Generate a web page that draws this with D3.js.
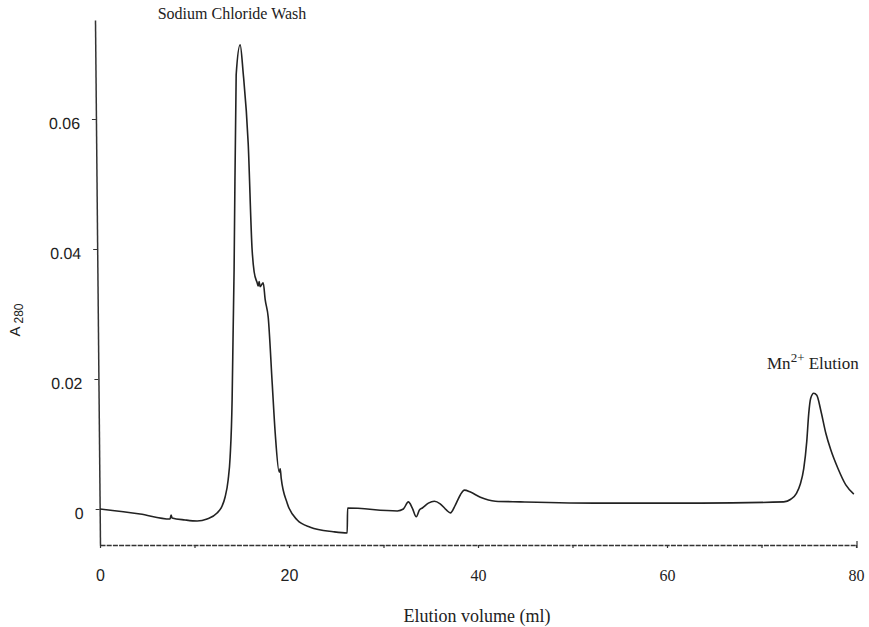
<!DOCTYPE html>
<html>
<head>
<meta charset="utf-8">
<script src="https://cdn.jsdelivr.net/npm/d3@7/dist/d3.min.js"></script>
<style>
  html, body { margin: 0; padding: 0; background: #fff; }
  svg { display: block; }
</style>
</head>
<body>
<svg id="chart" width="869" height="627"></svg>
<script>
// Elution volume (ml) and absorbance at 280 nm along the run
const volumeMl = [
  0, 4.24, 7.42, 7.52, 7.63, 9.0, 10.28, 11.33, 12.39, 12.92, 13.24, 13.56, 13.77, 13.98,
  14.09, 14.19, 14.41, 14.83, 15.15, 15.68, 16.10, 16.31, 16.63, 16.74, 16.84, 16.95, 17.27,
  17.48, 17.80, 18.22, 18.54, 18.96, 19.07, 19.17, 19.81, 20.87, 22.25, 24.68, 26.16, 26.2,
  31.46, 32.1, 32.63, 33.05, 33.47, 33.8, 34.11, 34.75, 35.38, 36.0, 36.65, 37.08, 37.6,
  38.14, 38.56, 39.2, 40.25, 41.84, 44.5, 53.0, 63.6, 72.35, 73.1, 73.7, 74.1, 74.47,
  74.79, 75.0, 75.2, 75.53, 75.85, 76.27, 76.8, 77.33, 78.07, 78.92, 79.77
];
const absorbance = [
  0, -0.00077, -0.00154, -0.00092, -0.00138, -0.00169, -0.00185, -0.00154, -0.00062, 0.00046,
  0.00185, 0.00446, 0.0080, 0.0168, 0.0275, 0.0368, 0.0668, 0.0714, 0.0671, 0.0563, 0.0398,
  0.0365, 0.0348, 0.0343, 0.0350, 0.0342, 0.0348, 0.0322, 0.0295, 0.0194, 0.0117, 0.0057,
  0.0062, 0.0048, 0.0009, -0.0017, -0.0028, -0.0035, -0.0037, 0.00015, -0.0003, 0.0, 0.0011,
  0.00015, -0.0012, -0.00015, 0.00015, 0.0009, 0.0012, 0.0008, -0.00015, -0.0006, 0.0006,
  0.0022, 0.0029, 0.0026, 0.0018, 0.0012, 0.0011, 0.0009, 0.0009, 0.0011, 0.0015, 0.0024,
  0.0038, 0.0062, 0.0104, 0.0147, 0.0170, 0.0178, 0.0175, 0.0152, 0.0117, 0.0091, 0.0063,
  0.0037, 0.0023
];

const xTicks = [0, 10, 20, 30, 40, 50, 60, 70, 80];
const xTickLabels = ["0", "", "20", "", "40", "", "60", "", "80"];
const yTicks = [0, 0.02, 0.04, 0.06];
const yTickLabels = ["0", "0.02", "0.04", "0.06"];

const serif = "'Liberation Serif', 'Times New Roman', serif";
const sans = "'Liberation Sans', Arial, sans-serif";
const ink = "#222";

const svg = d3.select("#chart");

const x = d3.scaleLinear().domain([0, 80]).range([100, 856]);
const y = d3.scaleLinear().domain([-0.00554, 0.07523]).range([545, 20]);

// x axis: dotted baseline with minor ticks every 10 ml
const xAxis = svg.append("g")
  .attr("transform", "translate(0,545)")
  .call(d3.axisBottom(x)
    .tickValues(xTicks)
    .tickSize(3)
    .tickSizeOuter(0)
    .tickPadding(22)
    .tickFormat((d, i) => xTickLabels[i]));
xAxis.select(".domain")
  .attr("stroke", "#333")
  .attr("stroke-width", 1.3)
  .attr("stroke-dasharray", "5,1.2");
xAxis.selectAll(".tick line").attr("stroke", "#333").attr("stroke-width", 1.2);
xAxis.selectAll(".tick text")
  .attr("fill", ink)
  .style("font-family", d => d < 30 ? sans : serif)
  .style("font-size", "16px");
// small upturn at the far end of the axis
svg.append("line")
  .attr("x1", x(80) + 1).attr("x2", x(80) + 1)
  .attr("y1", 541).attr("y2", 548)
  .attr("stroke", "#333").attr("stroke-width", 1.2);

// y axis: drawn slightly leaning, as on the original plot
const yAxis = svg.append("g")
  .attr("transform", "translate(94.8,0) skewX(0.546)")
  .call(d3.axisLeft(y)
    .tickValues(yTicks)
    .tickSize(4)
    .tickSizeOuter(0)
    .tickPadding(12)
    .tickFormat((d, i) => yTickLabels[i]));
yAxis.select(".domain").attr("stroke", "#333").attr("stroke-width", 1.5);
yAxis.selectAll(".tick line").attr("stroke", "#333").attr("stroke-width", 1.2);
yAxis.selectAll(".tick text")
  .attr("fill", ink)
  .attr("dy", "0.6em")
  .style("font-family", sans)
  .style("font-size", "16px");

// absorbance trace
const line = d3.line()
  .x(d => x(d[0]))
  .y(d => y(d[1]))
  .curve(d3.curveMonotoneX);

svg.append("path")
  .datum(volumeMl.map((v, i) => [v, absorbance[i]]))
  .attr("d", line)
  .attr("fill", "none")
  .attr("stroke", ink)
  .attr("stroke-width", 1.6)
  .attr("stroke-linejoin", "round");

// annotations
svg.append("text")
  .attr("x", 232).attr("y", 19)
  .attr("text-anchor", "middle")
  .attr("fill", ink)
  .style("font-family", serif)
  .style("font-size", "16px")
  .text("Sodium Chloride Wash");

const mn = svg.append("text")
  .attr("x", 767).attr("y", 369)
  .attr("fill", ink)
  .style("font-family", serif)
  .style("font-size", "17px");
mn.append("tspan").text("Mn");
mn.append("tspan").attr("dy", -7).style("font-size", "13px").text("2+");
mn.append("tspan").attr("dy", 7).text(" Elution");

// axis titles
svg.append("text")
  .attr("x", 477).attr("y", 622)
  .attr("text-anchor", "middle")
  .attr("fill", ink)
  .style("font-family", serif)
  .style("font-size", "18px")
  .text("Elution volume (ml)");

const yTitle = svg.append("text")
  .attr("transform", "translate(20,320) rotate(-90)")
  .attr("text-anchor", "middle")
  .attr("fill", ink)
  .style("font-family", sans)
  .style("font-size", "15px");
yTitle.append("tspan").text("A");
yTitle.append("tspan").attr("dx", 3).attr("dy", 3).style("font-size", "12px").text("280");
</script>
</body>
</html>
